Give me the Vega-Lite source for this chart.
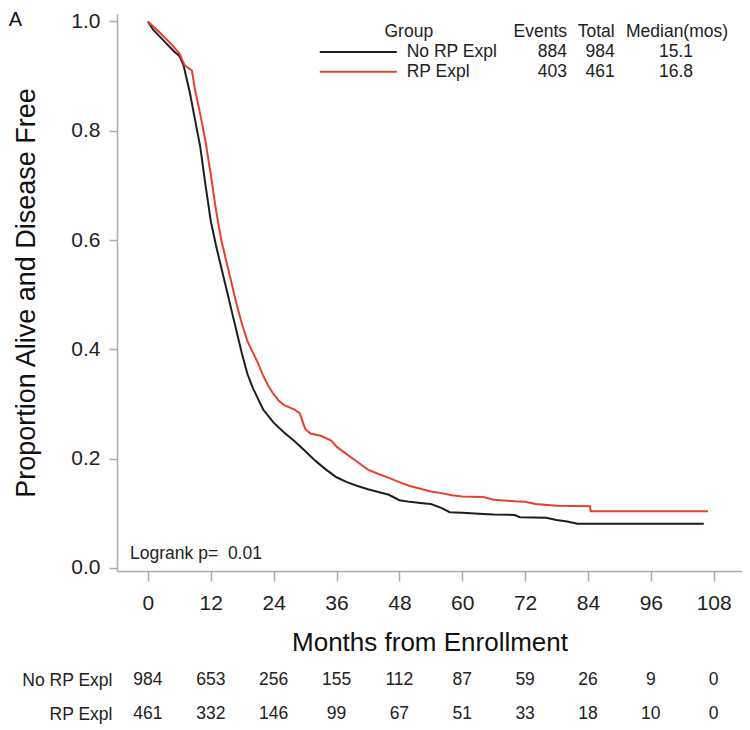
{
  "$schema": "https://vega.github.io/schema/vega-lite/v6.json",
  "background": "white",
  "padding": {"left": 8, "top": 10, "right": 0, "bottom": 0},
  "title": {"text": "A", "anchor": "start", "frame": "bounds", "fontSize": 20, "fontWeight": "normal", "font": "Liberation Sans", "color": "#111", "offset": -20, "dx": -4},
  "config": {
    "view": {"stroke": null},
    "font": "Liberation Sans",
    "axis": {"labelFont": "Liberation Sans", "titleFont": "Liberation Sans", "titleFontWeight": "normal", "labelColor": "#222", "titleColor": "#111", "grid": false},
    "text": {"font": "Liberation Sans"}
  },
  "spacing": 8,
  "resolve": {"scale": {"x": "independent", "y": "independent"}},
  "datasets": {
    "curves": [
      {"group": "No RP Expl", "month": 0, "surv": 1.0},
      {"group": "No RP Expl", "month": 1, "surv": 0.985},
      {"group": "No RP Expl", "month": 2, "surv": 0.975},
      {"group": "No RP Expl", "month": 3, "surv": 0.965},
      {"group": "No RP Expl", "month": 4, "surv": 0.955},
      {"group": "No RP Expl", "month": 5, "surv": 0.945},
      {"group": "No RP Expl", "month": 6, "surv": 0.937},
      {"group": "No RP Expl", "month": 6.8, "surv": 0.92},
      {"group": "No RP Expl", "month": 8, "surv": 0.87},
      {"group": "No RP Expl", "month": 9, "surv": 0.82},
      {"group": "No RP Expl", "month": 10, "surv": 0.77},
      {"group": "No RP Expl", "month": 11, "surv": 0.70},
      {"group": "No RP Expl", "month": 12, "surv": 0.635},
      {"group": "No RP Expl", "month": 13, "surv": 0.59},
      {"group": "No RP Expl", "month": 14, "surv": 0.55},
      {"group": "No RP Expl", "month": 15, "surv": 0.51},
      {"group": "No RP Expl", "month": 16, "surv": 0.47},
      {"group": "No RP Expl", "month": 17, "surv": 0.43},
      {"group": "No RP Expl", "month": 18, "surv": 0.39},
      {"group": "No RP Expl", "month": 19, "surv": 0.355},
      {"group": "No RP Expl", "month": 20, "surv": 0.33},
      {"group": "No RP Expl", "month": 21, "surv": 0.31},
      {"group": "No RP Expl", "month": 22, "surv": 0.29},
      {"group": "No RP Expl", "month": 23, "surv": 0.278},
      {"group": "No RP Expl", "month": 24, "surv": 0.266},
      {"group": "No RP Expl", "month": 26, "surv": 0.248},
      {"group": "No RP Expl", "month": 28, "surv": 0.232},
      {"group": "No RP Expl", "month": 30, "surv": 0.214},
      {"group": "No RP Expl", "month": 32, "surv": 0.196},
      {"group": "No RP Expl", "month": 34, "surv": 0.18},
      {"group": "No RP Expl", "month": 36, "surv": 0.166},
      {"group": "No RP Expl", "month": 38, "surv": 0.157},
      {"group": "No RP Expl", "month": 40, "surv": 0.15},
      {"group": "No RP Expl", "month": 42, "surv": 0.144},
      {"group": "No RP Expl", "month": 44, "surv": 0.139},
      {"group": "No RP Expl", "month": 46, "surv": 0.134},
      {"group": "No RP Expl", "month": 48, "surv": 0.124},
      {"group": "No RP Expl", "month": 50, "surv": 0.121},
      {"group": "No RP Expl", "month": 52, "surv": 0.119},
      {"group": "No RP Expl", "month": 54, "surv": 0.117},
      {"group": "No RP Expl", "month": 56, "surv": 0.11},
      {"group": "No RP Expl", "month": 57.6, "surv": 0.102},
      {"group": "No RP Expl", "month": 60, "surv": 0.101},
      {"group": "No RP Expl", "month": 64, "surv": 0.099},
      {"group": "No RP Expl", "month": 66, "surv": 0.098},
      {"group": "No RP Expl", "month": 70, "surv": 0.097},
      {"group": "No RP Expl", "month": 71, "surv": 0.093},
      {"group": "No RP Expl", "month": 76, "surv": 0.092},
      {"group": "No RP Expl", "month": 78, "surv": 0.088},
      {"group": "No RP Expl", "month": 80, "surv": 0.085},
      {"group": "No RP Expl", "month": 82, "surv": 0.081},
      {"group": "No RP Expl", "month": 106.1, "surv": 0.081},
      {"group": "RP Expl", "month": 0, "surv": 1.0},
      {"group": "RP Expl", "month": 2, "surv": 0.982},
      {"group": "RP Expl", "month": 4, "surv": 0.963},
      {"group": "RP Expl", "month": 6, "surv": 0.942},
      {"group": "RP Expl", "month": 7, "surv": 0.92},
      {"group": "RP Expl", "month": 8.4, "surv": 0.91},
      {"group": "RP Expl", "month": 9, "surv": 0.875},
      {"group": "RP Expl", "month": 10, "surv": 0.83},
      {"group": "RP Expl", "month": 11, "surv": 0.78},
      {"group": "RP Expl", "month": 12, "surv": 0.72},
      {"group": "RP Expl", "month": 13, "surv": 0.655},
      {"group": "RP Expl", "month": 14, "surv": 0.60},
      {"group": "RP Expl", "month": 15, "surv": 0.56},
      {"group": "RP Expl", "month": 16, "surv": 0.52},
      {"group": "RP Expl", "month": 17, "surv": 0.48},
      {"group": "RP Expl", "month": 18, "surv": 0.445},
      {"group": "RP Expl", "month": 19, "surv": 0.415},
      {"group": "RP Expl", "month": 20, "surv": 0.395},
      {"group": "RP Expl", "month": 21, "surv": 0.375},
      {"group": "RP Expl", "month": 22, "surv": 0.352},
      {"group": "RP Expl", "month": 23, "surv": 0.333},
      {"group": "RP Expl", "month": 24, "surv": 0.318},
      {"group": "RP Expl", "month": 25, "surv": 0.306},
      {"group": "RP Expl", "month": 26, "surv": 0.298},
      {"group": "RP Expl", "month": 28, "surv": 0.29},
      {"group": "RP Expl", "month": 29, "surv": 0.283},
      {"group": "RP Expl", "month": 30, "surv": 0.255},
      {"group": "RP Expl", "month": 31, "surv": 0.246},
      {"group": "RP Expl", "month": 33, "surv": 0.242},
      {"group": "RP Expl", "month": 35, "surv": 0.233},
      {"group": "RP Expl", "month": 36, "surv": 0.222},
      {"group": "RP Expl", "month": 38, "surv": 0.208},
      {"group": "RP Expl", "month": 40, "surv": 0.194},
      {"group": "RP Expl", "month": 42, "surv": 0.18},
      {"group": "RP Expl", "month": 44, "surv": 0.172},
      {"group": "RP Expl", "month": 46, "surv": 0.165},
      {"group": "RP Expl", "month": 48, "surv": 0.157},
      {"group": "RP Expl", "month": 50, "surv": 0.15},
      {"group": "RP Expl", "month": 52, "surv": 0.145},
      {"group": "RP Expl", "month": 54, "surv": 0.14},
      {"group": "RP Expl", "month": 56, "surv": 0.137},
      {"group": "RP Expl", "month": 58, "surv": 0.133},
      {"group": "RP Expl", "month": 60, "surv": 0.131},
      {"group": "RP Expl", "month": 64, "surv": 0.13},
      {"group": "RP Expl", "month": 66, "surv": 0.125},
      {"group": "RP Expl", "month": 70, "surv": 0.122},
      {"group": "RP Expl", "month": 72, "surv": 0.121},
      {"group": "RP Expl", "month": 74, "surv": 0.117},
      {"group": "RP Expl", "month": 78, "surv": 0.114},
      {"group": "RP Expl", "month": 84.4, "surv": 0.113},
      {"group": "RP Expl", "month": 84.5, "surv": 0.104},
      {"group": "RP Expl", "month": 106.9, "surv": 0.104}
    ],
    "keylines": [
      {"group": "No RP Expl", "x1": 32.8, "x2": 47.5, "y": 0.944},
      {"group": "RP Expl", "x1": 32.8, "x2": 47.5, "y": 0.908}
    ],
    "legendtext": [
      {"label": "Group", "x": 49.8, "y": 0.981, "al": "center"},
      {"label": "Median(mos)", "x": 101, "y": 0.981, "al": "center"},
      {"label": "15.1", "x": 100.8, "y": 0.944, "al": "center"},
      {"label": "16.8", "x": 100.8, "y": 0.908, "al": "center"},
      {"label": "Events", "x": 80, "y": 0.981, "al": "right"},
      {"label": "Total", "x": 89.1, "y": 0.981, "al": "right"},
      {"label": "884", "x": 80, "y": 0.944, "al": "right"},
      {"label": "984", "x": 89.1, "y": 0.944, "al": "right"},
      {"label": "403", "x": 80, "y": 0.908, "al": "right"},
      {"label": "461", "x": 89.1, "y": 0.908, "al": "right"},
      {"label": "No RP Expl", "x": 49.4, "y": 0.944, "al": "left"},
      {"label": "RP Expl", "x": 49.4, "y": 0.908, "al": "left"},
      {"label": "Logrank p=\u00a0 0.01", "x": -3.4, "y": 0.026, "al": "left"}
    ],
    "risk": [
      {"group": "No RP Expl", "month": 0, "n": 984},
      {"group": "No RP Expl", "month": 12, "n": 653},
      {"group": "No RP Expl", "month": 24, "n": 256},
      {"group": "No RP Expl", "month": 36, "n": 155},
      {"group": "No RP Expl", "month": 48, "n": 112},
      {"group": "No RP Expl", "month": 60, "n": 87},
      {"group": "No RP Expl", "month": 72, "n": 59},
      {"group": "No RP Expl", "month": 84, "n": 26},
      {"group": "No RP Expl", "month": 96, "n": 9},
      {"group": "No RP Expl", "month": 108, "n": 0},
      {"group": "RP Expl", "month": 0, "n": 461},
      {"group": "RP Expl", "month": 12, "n": 332},
      {"group": "RP Expl", "month": 24, "n": 146},
      {"group": "RP Expl", "month": 36, "n": 99},
      {"group": "RP Expl", "month": 48, "n": 67},
      {"group": "RP Expl", "month": 60, "n": 51},
      {"group": "RP Expl", "month": 72, "n": 33},
      {"group": "RP Expl", "month": 84, "n": 18},
      {"group": "RP Expl", "month": 96, "n": 10},
      {"group": "RP Expl", "month": 108, "n": 0}
    ]
  },
  "vconcat": [
    {
      "width": 625,
      "height": 557,
      "layer": [
        {
          "data": {"name": "curves"},
          "mark": {"type": "line", "strokeWidth": 2, "interpolate": "linear", "clip": true},
          "encoding": {
            "x": {"field": "month", "type": "quantitative",
              "scale": {"domain": [-5.9, 113.4], "nice": false, "zero": false},
              "axis": {"values": [0, 12, 24, 36, 48, 60, 72, 84, 96, 108], "title": "Months from Enrollment",
                "titleFontSize": 26, "labelFontSize": 21, "tickSize": 10, "labelPadding": 11, "titlePadding": 16,
                "domainColor": "#aaaaaa", "tickColor": "#aaaaaa", "domainWidth": 1.5, "tickWidth": 1.5}},
            "y": {"field": "surv", "type": "quantitative",
              "scale": {"domain": [-0.0055, 1.0137], "nice": false, "zero": false},
              "axis": {"values": [0, 0.2, 0.4, 0.6, 0.8, 1.0], "format": ".1f", "title": "Proportion Alive and Disease Free",
                "titleFontSize": 27, "labelFontSize": 21, "tickSize": 8, "labelPadding": 9, "titlePadding": 30,
                "domainColor": "#aaaaaa", "tickColor": "#aaaaaa", "domainWidth": 1.5, "tickWidth": 1.5}},
            "color": {"field": "group", "type": "nominal",
              "scale": {"domain": ["No RP Expl", "RP Expl"], "range": ["#1e1e1e", "#e8402f"]}, "legend": null}
          }
        },
        {
          "data": {"name": "keylines"},
          "mark": {"type": "rule", "strokeWidth": 2},
          "encoding": {
            "x": {"field": "x1", "type": "quantitative"},
            "x2": {"field": "x2"},
            "y": {"field": "y", "type": "quantitative"},
            "color": {"field": "group", "type": "nominal"}
          }
        },
        {
          "data": {"name": "legendtext"},
          "transform": [{"filter": "datum.al === 'left'"}],
          "mark": {"type": "text", "align": "left", "baseline": "middle", "fontSize": 17.5, "color": "#222"},
          "encoding": {
            "x": {"field": "x", "type": "quantitative"},
            "y": {"field": "y", "type": "quantitative"},
            "text": {"field": "label"}
          }
        },
        {
          "data": {"name": "legendtext"},
          "transform": [{"filter": "datum.al === 'right'"}],
          "mark": {"type": "text", "align": "right", "baseline": "middle", "fontSize": 17.5, "color": "#222"},
          "encoding": {
            "x": {"field": "x", "type": "quantitative"},
            "y": {"field": "y", "type": "quantitative"},
            "text": {"field": "label"}
          }
        },
        {
          "data": {"name": "legendtext"},
          "transform": [{"filter": "datum.al === 'center'"}],
          "mark": {"type": "text", "align": "center", "baseline": "middle", "fontSize": 17.5, "color": "#222"},
          "encoding": {
            "x": {"field": "x", "type": "quantitative"},
            "y": {"field": "y", "type": "quantitative"},
            "text": {"field": "label"}
          }
        }
      ]
    },
    {
      "width": 625,
      "height": 68,
      "data": {"name": "risk"},
      "mark": {"type": "text", "fontSize": 17.5, "color": "#222", "baseline": "middle"},
      "encoding": {
        "x": {"field": "month", "type": "quantitative",
          "scale": {"domain": [-5.9, 113.4], "nice": false, "zero": false}, "axis": null},
        "y": {"field": "group", "type": "nominal", "sort": ["No RP Expl", "RP Expl"],
          "scale": {"paddingInner": 0, "paddingOuter": 0},
          "axis": {"title": null, "domain": false, "ticks": false, "labelFontSize": 17.5, "labelPadding": 5, "labelColor": "#222"}},
        "text": {"field": "n", "type": "quantitative"}
      }
    }
  ]
}
